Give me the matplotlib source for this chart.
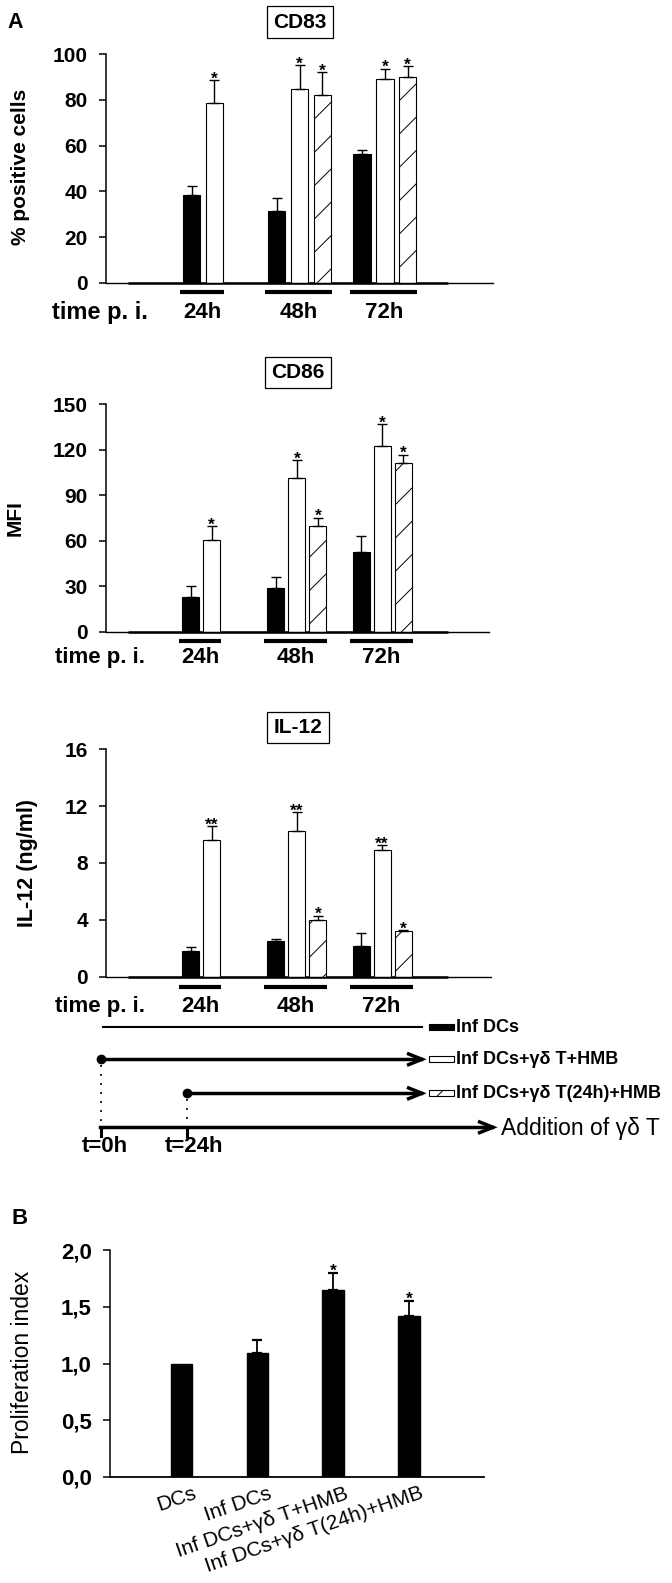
import numpy as np
import matplotlib
matplotlib.use("Agg")
import matplotlib.pyplot as plt
from matplotlib.patches import Rectangle
from matplotlib.transforms import blended_transform_factory

# ---------------- data ----------------
groups = ["24h", "48h", "72h"]

cd83_black = [38.5, 31.6, 56.4]
cd83_black_err = [3.7, 5.3, 1.6]
cd83_white = [78.6, 84.9, 89.0]
cd83_white_err = [10.0, 10.3, 4.7]
cd83_hatch = [np.nan, 82.0, 89.9]
cd83_hatch_err = [np.nan, 10.2, 5.0]
cd83_white_sig = ["*", "*", "*"]
cd83_hatch_sig = ["", "*", "*"]

cd86_black = [23.2, 28.5, 52.5]
cd86_black_err = [7.0, 7.8, 10.3]
cd86_white = [60.4, 101.6, 122.4]
cd86_white_err = [9.2, 11.4, 14.6]
cd86_hatch = [np.nan, 69.8, 111.2]
cd86_hatch_err = [np.nan, 5.5, 5.5]
cd86_white_sig = ["*", "*", "*"]
cd86_hatch_sig = ["", "*", "*"]

il12_black = [1.84, 2.52, 2.19]
il12_black_err = [0.26, 0.12, 0.87]
il12_white = [9.6, 10.28, 8.9]
il12_white_err = [1.0, 1.32, 0.37]
il12_hatch = [np.nan, 3.98, 3.2]
il12_hatch_err = [np.nan, 0.32, 0.1]
il12_white_sig = ["**", "**", "**"]
il12_hatch_sig = ["", "*", "*"]

legend_labels = ["Inf DCs", "Inf DCs+γδ T+HMB", "Inf DCs+γδ T(24h)+HMB"]

b_categories = ["DCs", "Inf DCs", "Inf DCs+γδ T+HMB", "Inf DCs+γδ T(24h)+HMB"]
b_values = [1.0, 1.094, 1.647, 1.418]
b_err = [0.0, 0.116, 0.153, 0.135]
b_sig = ["", "", "*", "*"]
b_yticks = [0.0, 0.5, 1.0, 1.5, 2.0]
b_yticklabels = ["0,0", "0,5", "1,0", "1,5", "2,0"]

# ---------------- style ----------------
SANS = ["Liberation Sans", "DejaVu Sans"]
plt.rcParams["font.family"] = SANS
plt.rcParams["hatch.linewidth"] = 0.7

W, H = 672, 1583
fig = plt.figure(figsize=(W / 100, H / 100), dpi=100)


def px_axes(left, top, right, bottom, **kw):
    return fig.add_axes([left / W, 1 - bottom / H, (right - left) / W, (bottom - top) / H], **kw)


ov = px_axes(0, 0, W, H)
ov.set_xlim(0, W)
ov.set_ylim(H, 0)
ov.axis("off")

AX_LEFT = 106


def bar_panel(top, bottom, right, ymax, ystep, x0, slot, bw, black, black_err, white, white_err,
              hatch, hatch_err, wsig, hsig, ul_y, lab_y, tpi_size):
    ax = px_axes(AX_LEFT, top, right, bottom)
    ax.set_xlim(AX_LEFT, right)
    ax.set_ylim(0, ymax)
    for s in ["top", "right"]:
        ax.spines[s].set_visible(False)
    ax.spines["left"].set_linewidth(1.1)
    ax.spines["bottom"].set_linewidth(1.0)
    ax.set_xticks([])
    ax.set_yticks(np.arange(0, ymax + 0.01, ystep))
    ax.tick_params(axis="y", direction="out", length=5, width=1.1, pad=8)
    for lab in ax.get_yticklabels():
        lab.set_fontweight("bold")
        lab.set_fontsize(15)
    ax.patch.set_alpha(0)
    # thicker segment of baseline
    ax.plot([128, 448], [0, 0], color="k", lw=1.8, solid_capstyle="butt", clip_on=False, zorder=1)
    gstep = 85.3
    series = [(black, black_err, "black", "", None),
              (white, white_err, "white", "", wsig),
              (hatch, hatch_err, "white", "/", hsig)]
    for g in range(len(groups)):
        xs_used = []
        for s, (vals, errs, fc, hp, sig) in enumerate(series):
            v = vals[g]
            if np.isnan(v):
                continue
            x = x0 + g * gstep + s * slot
            xs_used.append(x)
            ax.bar(x, v, width=bw, color=fc, edgecolor="k", linewidth=0.8, hatch=hp, zorder=2)
            e = errs[g]
            ax.errorbar([x], [v], yerr=[[0], [e]], fmt="none", ecolor="k", elinewidth=1.0,
                        capsize=3.5, capthick=1.0, zorder=3)
            if sig is not None and sig[g]:
                ax.annotate(sig[g], (x, v + e), xytext=(0, -2.5), textcoords="offset points",
                            ha="center", va="baseline", fontsize=12.5, fontweight="bold",
                            annotation_clip=False)
        xa = min(xs_used) - bw / 2 - 3
        xb_ = max(xs_used) + bw / 2 + 1
        ov.plot([xa, xb_], [ul_y, ul_y], color="k", lw=3.0, solid_capstyle="butt")
        ov.text((xa + xb_) / 2, lab_y, groups[g], ha="center", va="center", fontsize=16,
                fontweight="bold")
    ov.text(100, lab_y, "time p. i.", ha="center", va="center", fontsize=tpi_size,
            fontweight="bold")
    return ax


def title_box(x, y, txt):
    ov.text(x, y, txt, ha="center", va="center", fontsize=15, fontweight="bold",
            bbox=dict(boxstyle="square,pad=0.3", fc="white", ec="k", lw=0.9))


# Panel A: CD83
bar_panel(54.3, 282.7, 493, 100, 20, 191.5, 22.8, 17.3, cd83_black, cd83_black_err, cd83_white,
          cd83_white_err, cd83_hatch, cd83_hatch_err, cd83_white_sig, cd83_hatch_sig,
          292.3, 312, 17)
title_box(300, 22, "CD83")
ov.text(15, 22.5, "A", ha="center", va="center", fontsize=15.5, fontweight="bold")
ov.text(21, 167, "% positive cells", rotation=90, ha="center", va="center", fontsize=15,
        fontweight="bold")

# CD86
bar_panel(404.3, 631.7, 489, 150, 30, 190.5, 21.0, 17.0, cd86_black, cd86_black_err, cd86_white,
          cd86_white_err, cd86_hatch, cd86_hatch_err, cd86_white_sig, cd86_hatch_sig,
          640.5, 657, 16)
title_box(298, 372.7, "CD86")
ov.text(15, 518, "MFI", rotation=90, ha="center", va="center", fontsize=15, fontweight="bold")

# IL-12
bar_panel(749.3, 976.7, 491, 16, 4, 190.5, 21.0, 17.0, il12_black, il12_black_err, il12_white,
          il12_white_err, il12_hatch, il12_hatch_err, il12_white_sig, il12_hatch_sig,
          986.7, 1006, 16)
title_box(298, 727.7, "IL-12")
ov.text(28, 862.5, "IL-12 (ng/ml)", rotation=90, ha="center", va="center", fontsize=15.5,
        fontweight="bold")


# ---------------- timeline diagram ----------------
def chevron(xt, y, lw=2.5):
    ov.plot([xt - 15, xt, xt - 15], [y - 6, y, y + 6], color="k", lw=lw,
            solid_joinstyle="miter", solid_capstyle="butt")


ov.plot([103, 422], [1027.3, 1027.3], color="k", lw=1.5)
ov.plot([100.7, 421], [1059.3, 1059.3], color="k", lw=2.5)
chevron(422, 1059.3)
ov.plot([187, 421], [1093.3, 1093.3], color="k", lw=2.5)
chevron(422, 1093.3)
ov.plot([100.7], [1059.3], "o", color="k", ms=6)
ov.plot([187], [1093.3], "o", color="k", ms=6)
ov.plot([100.7, 100.7], [1065, 1124], color="k", lw=1.3, linestyle=(0, (1, 4)))
ov.plot([187, 187], [1099, 1124], color="k", lw=1.3, linestyle=(0, (1, 4)))
ov.plot([99.5, 492], [1127.3, 1127.3], color="k", lw=2.5)
chevron(493, 1127.3)
ov.plot([100.7, 100.7], [1127.3, 1136], color="k", lw=2.2)
ov.plot([187, 187], [1127.3, 1136], color="k", lw=2.2)
ov.text(501, 1128, "Addition of γδ T", ha="left", va="center", fontsize=16.5)
ov.text(105, 1147, "t=0h", ha="center", va="center", fontsize=16, fontweight="bold")
ov.text(194, 1147, "t=24h", ha="center", va="center", fontsize=16, fontweight="bold")

leg_y = [1027.3, 1059.3, 1093.3]
leg_fc = ["black", "white", "white"]
leg_hatch = ["", "", "/"]
for yy, lab, fc, hp in zip(leg_y, legend_labels, leg_fc, leg_hatch):
    ov.add_patch(Rectangle((428.6, yy - 3), 25.5, 6, facecolor=fc, edgecolor="k", lw=0.8, hatch=hp))
    ov.text(456.5, yy, lab, ha="left", va="center", fontsize=13, fontweight="bold")

# ---------------- Panel B ----------------
B_LEFT, B_RIGHT = 110, 484
axb = px_axes(B_LEFT, 1250, B_RIGHT, 1477)
axb.patch.set_alpha(0)
xb = 181.5 + 75.8 * np.arange(len(b_categories))
axb.set_xlim(B_LEFT, B_RIGHT)
axb.set_ylim(0, 2.0)
for s in ["top", "right"]:
    axb.spines[s].set_visible(False)
axb.spines["left"].set_linewidth(1.1)
axb.spines["bottom"].set_linewidth(1.3)
axb.bar(xb, b_values, width=21.5, color="black", edgecolor="k", zorder=2)
for x, v, e, sg in zip(xb, b_values, b_err, b_sig):
    if e > 0:
        axb.errorbar([x], [v], yerr=[[0], [e]], fmt="none", ecolor="k", elinewidth=1.3,
                     capsize=3.5, capthick=1.6, zorder=3)
    if sg:
        axb.annotate(sg, (x, v + e), xytext=(0, -2.5), textcoords="offset points", ha="center",
                     va="baseline", fontsize=12.5, fontweight="bold")
axb.set_yticks(b_yticks)
axb.set_yticklabels(b_yticklabels)
for lab in axb.get_yticklabels():
    lab.set_fontweight("bold")
    lab.set_fontsize(16)
axb.tick_params(axis="y", direction="out", length=5, width=1.1, pad=8)
axb.set_xticks(xb)
axb.set_xticklabels([])
axb.tick_params(axis="x", length=0)
bb = blended_transform_factory(axb.transData, axb.transAxes)
for x, lab in zip(xb, b_categories):
    axb.text(x + 11, -0.03, lab, transform=bb, rotation=19, rotation_mode="anchor",
             ha="right", va="top", fontsize=15)
ov.text(20, 1218, "B", ha="center", va="center", fontsize=16, fontweight="bold")
ov.text(22.5, 1362.5, "Proliferation index", rotation=90, ha="center", va="center", fontsize=16.5)

fig.savefig("out.png", dpi=100)
